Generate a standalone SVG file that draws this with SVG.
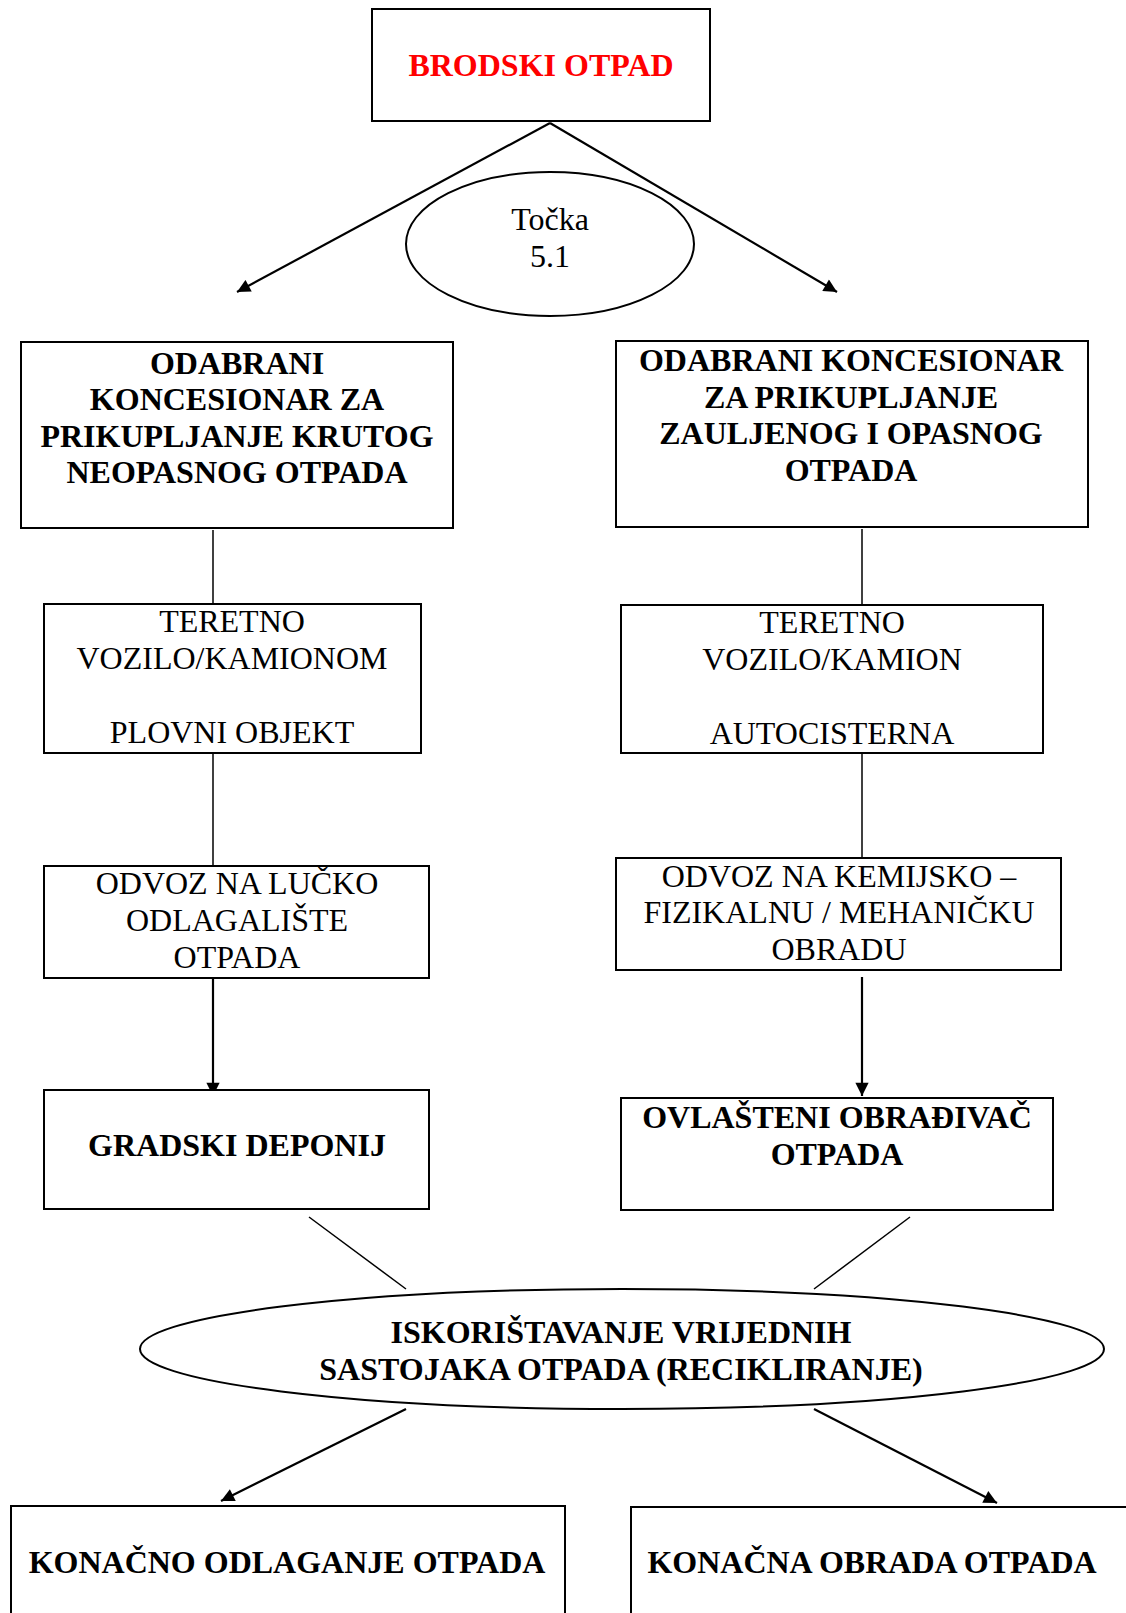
<svg xmlns="http://www.w3.org/2000/svg" width="1126" height="1613" viewBox="0 0 1126 1613">
<style>
.box{fill:#fff;stroke:#000;stroke-width:2}
.ell{fill:#fff;stroke:#000;stroke-width:2}
.t{font-family:"Liberation Serif","Times New Roman",serif;font-size:32px;fill:#000;text-anchor:middle}
.b{font-weight:bold}
.red{fill:#ff0000}
.ln{stroke:#000;stroke-width:1.5;fill:none}
.ar{stroke:#000;stroke-width:2.2;fill:none;marker-end:url(#ah)}
</style>
<defs>
<marker id="ah" viewBox="0 0 10 10" refX="10" refY="5" markerWidth="6.5" markerHeight="6" markerUnits="strokeWidth" orient="auto">
<path d="M0,0 L10,5 L0,10 z" fill="#000"/>
</marker>
</defs>
<rect width="1126" height="1613" fill="#fff"/>
<g id="connectors">
<line class="ar" x1="550" y1="123" x2="237" y2="292"/>
<line class="ar" x1="550" y1="123" x2="837" y2="292"/>
<line class="ln" x1="213" y1="530" x2="213" y2="604"/>
<line class="ln" x1="862" y1="529" x2="862" y2="605"/>
<line class="ln" x1="213" y1="753" x2="213" y2="866"/>
<line class="ln" x1="862" y1="753" x2="862" y2="858"/>
<line class="ar" x1="213" y1="978" x2="213" y2="1096"/>
<line class="ar" x1="862" y1="977" x2="862" y2="1096"/>
<line class="ln" x1="309" y1="1217" x2="406" y2="1289"/>
<line class="ln" x1="910" y1="1217" x2="814" y2="1289"/>
<line class="ar" x1="406" y1="1409" x2="221" y2="1501"/>
<line class="ar" x1="814" y1="1409" x2="997" y2="1503"/>
</g>
<g id="brodski-otpad">
<rect class="box" x="372" y="9" width="338" height="112"/>
<text class="t b red" x="541" y="76">BRODSKI OTPAD</text>
</g>
<g id="tocka">
<ellipse class="ell" cx="550" cy="244" rx="144" ry="72"/>
<text class="t" x="550" y="230">Točka</text>
<text class="t" x="550" y="267">5.1</text>
</g>
<g id="koncesionar-krutog">
<rect class="box" x="21" y="342" width="432" height="186"/>
<text class="t b" x="237" y="374">ODABRANI</text>
<text class="t b" x="237" y="410">KONCESIONAR ZA</text>
<text class="t b" x="237" y="447">PRIKUPLJANJE KRUTOG</text>
<text class="t b" x="237" y="483">NEOPASNOG OTPADA</text>
</g>
<g id="koncesionar-opasnog">
<rect class="box" x="616" y="341" width="472" height="186"/>
<text class="t b" x="851" y="371">ODABRANI KONCESIONAR</text>
<text class="t b" x="851" y="408">ZA PRIKUPLJANJE</text>
<text class="t b" x="851" y="444">ZAULJENOG I OPASNOG</text>
<text class="t b" x="851" y="481">OTPADA</text>
</g>
<g id="vozilo-left">
<rect class="box" x="44" y="604" width="377" height="149"/>
<text class="t" x="232" y="632">TERETNO</text>
<text class="t" x="232" y="669">VOZILO/KAMIONOM</text>
<text class="t" x="232" y="743">PLOVNI OBJEKT</text>
</g>
<g id="vozilo-right">
<rect class="box" x="621" y="605" width="422" height="148"/>
<text class="t" x="832" y="633">TERETNO</text>
<text class="t" x="832" y="670">VOZILO/KAMION</text>
<text class="t" x="832" y="744">AUTOCISTERNA</text>
</g>
<g id="odvoz-lucko">
<rect class="box" x="44" y="866" width="385" height="112"/>
<text class="t" x="237" y="894">ODVOZ NA LUČKO</text>
<text class="t" x="237" y="931">ODLAGALIŠTE</text>
<text class="t" x="237" y="968">OTPADA</text>
</g>
<g id="odvoz-kemijsko">
<rect class="box" x="616" y="858" width="445" height="112"/>
<text class="t" x="839" y="887">ODVOZ NA KEMIJSKO –</text>
<text class="t" x="839" y="923">FIZIKALNU / MEHANIČKU</text>
<text class="t" x="839" y="960">OBRADU</text>
</g>
<g id="gradski-deponij">
<rect class="box" x="44" y="1090" width="385" height="119"/>
<text class="t b" x="237" y="1156">GRADSKI DEPONIJ</text>
</g>
<g id="ovlasteni">
<rect class="box" x="621" y="1098" width="432" height="112"/>
<text class="t b" x="837" y="1128">OVLAŠTENI OBRAĐIVAČ</text>
<text class="t b" x="837" y="1165">OTPADA</text>
</g>
<g id="recikliranje">
<ellipse class="ell" cx="622" cy="1349" rx="482" ry="60"/>
<text class="t b" x="621" y="1343">ISKORIŠTAVANJE VRIJEDNIH</text>
<text class="t b" x="621" y="1380">SASTOJAKA OTPADA (RECIKLIRANJE)</text>
</g>
<g id="konacno-odlaganje">
<rect class="box" x="11" y="1506" width="554" height="130"/>
<text class="t b" x="287" y="1573">KONAČNO ODLAGANJE OTPADA</text>
</g>
<g id="konacna-obrada">
<rect class="box" x="631" y="1507" width="520" height="130"/>
<text class="t b" x="872" y="1573">KONAČNA OBRADA OTPADA</text>
</g>
</svg>
